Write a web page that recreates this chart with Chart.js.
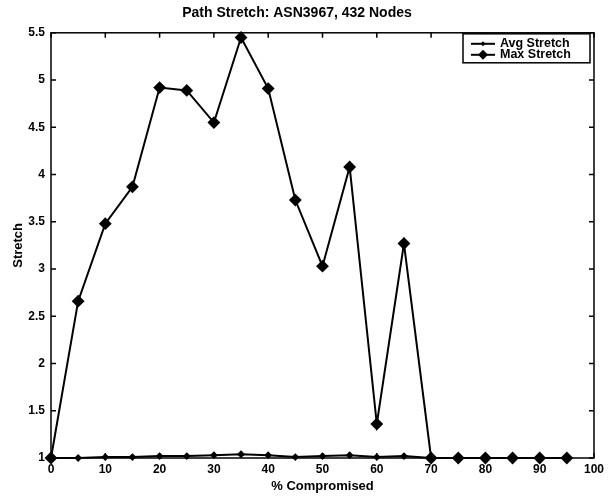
<!DOCTYPE html>
<html>
<head>
<meta charset="utf-8">
<script src="https://cdn.jsdelivr.net/npm/chart.js@4/dist/chart.umd.min.js"></script>
<style>
  html, body { margin: 0; padding: 0; background: #fff; }
  #wrap { width: 609px; height: 496px; position: relative; }
</style>
</head>
<body>
<div id="wrap"><canvas id="stretchChart"></canvas></div>
<script>
const compromised = [0, 5, 10, 15, 20, 25, 30, 35, 40, 45, 50, 55, 60, 65, 70, 75, 80, 85, 90, 95];
const avgStretch = [1.0, 1.0, 1.01, 1.01, 1.02, 1.02, 1.03, 1.04, 1.03, 1.01, 1.02, 1.03, 1.01, 1.02, 1.0, 1.0, 1.0, 1.0, 1.0, 1.0];
const maxStretch = [1.0, 2.66, 3.48, 3.87, 4.92, 4.89, 4.55, 5.45, 4.91, 3.73, 3.03, 4.08, 1.36, 3.27, 1.0, 1.0, 1.0, 1.0, 1.0, 1.0];
const xTicks = [0, 10, 20, 30, 40, 50, 60, 70, 80, 90, 100];
const yTicks = [1, 1.5, 2, 2.5, 3, 3.5, 4, 4.5, 5, 5.5];
const seriesNames = ["Avg Stretch", "Max Stretch"];

const FONT = "'Liberation Sans', Arial, Helvetica, sans-serif";

// box, inward ticks and the in-plot legend, matlab style
const matlabFrame = {
  id: "matlabFrame",
  afterDraw(chart) {
    const { ctx, chartArea: a, scales } = chart;
    ctx.save();
    ctx.strokeStyle = "#000";
    ctx.lineWidth = 1.5;
    ctx.strokeRect(a.left, a.top, a.right - a.left, a.bottom - a.top);

    const tl = 5;
    ctx.beginPath();
    xTicks.forEach((v) => {
      const x = scales.x.getPixelForValue(v);
      ctx.moveTo(x, a.bottom); ctx.lineTo(x, a.bottom - tl);
      ctx.moveTo(x, a.top); ctx.lineTo(x, a.top + tl);
    });
    yTicks.forEach((v) => {
      const y = scales.y.getPixelForValue(v);
      ctx.moveTo(a.left, y); ctx.lineTo(a.left + tl, y);
      ctx.moveTo(a.right, y); ctx.lineTo(a.right - tl, y);
    });
    ctx.stroke();

    // legend
    const bx = 463, by = a.top + 1, bw = 127, bh = 29;
    ctx.fillStyle = "#fff";
    ctx.fillRect(bx, by, bw, bh);
    ctx.lineWidth = 1.5;
    ctx.strokeRect(bx, by, bw, bh);
    ctx.font = "bold 12.5px " + FONT;
    ctx.textBaseline = "middle";
    ctx.textAlign = "left";
    seriesNames.forEach((name, i) => {
      const y = by + 10 + i * 11;
      ctx.strokeStyle = "#000";
      ctx.lineWidth = 2;
      ctx.beginPath();
      ctx.moveTo(bx + 8, y); ctx.lineTo(bx + 32, y);
      ctx.stroke();
      const r = i === 0 ? 2.5 : 5;
      ctx.fillStyle = "#000";
      ctx.beginPath();
      ctx.moveTo(bx + 20, y - r); ctx.lineTo(bx + 20 + r, y);
      ctx.lineTo(bx + 20, y + r); ctx.lineTo(bx + 20 - r, y);
      ctx.closePath();
      ctx.fill();
      ctx.fillText(name, bx + 37, y);
    });
    ctx.restore();
  },
};

const points = (ys) => compromised.map((x, i) => ({ x, y: ys[i] }));

new Chart(document.getElementById("stretchChart"), {
  type: "line",
  data: {
    datasets: [
      {
        label: seriesNames[0],
        data: points(avgStretch),
        borderColor: "#000",
        backgroundColor: "#000",
        borderWidth: 2,
        pointStyle: "rectRot",
        pointRadius: 2.5,
        clip: false,
      },
      {
        label: seriesNames[1],
        data: points(maxStretch),
        borderColor: "#000",
        backgroundColor: "#000",
        borderWidth: 2,
        pointStyle: "rectRot",
        pointRadius: 5,
        clip: false,
      },
    ],
  },
  options: {
    responsive: true,
    maintainAspectRatio: false,
    animation: false,
    layout: { padding: { top: 0, right: 15, bottom: 0, left: 0 } },
    plugins: {
      legend: { display: false },
      tooltip: { enabled: false },
      title: {
        display: true,
        text: "Path Stretch: ASN3967, 432 Nodes",
        color: "#000",
        font: { family: FONT, size: 14, weight: "bold" },
        padding: { top: 5, bottom: 11 },
      },
    },
    scales: {
      x: {
        type: "linear",
        min: 0,
        max: 100,
        afterBuildTicks: (s) => { s.ticks = xTicks.map((v) => ({ value: v })); },
        afterFit: (s) => { s.height = 38; },
        grid: { display: false, drawTicks: false },
        border: { display: false },
        ticks: {
          color: "#000",
          padding: 4,
          maxRotation: 0,
          font: { family: FONT, size: 12, weight: "bold" },
          callback: (v) => String(v),
        },
        title: {
          display: true,
          text: "% Compromised",
          color: "#000",
          font: { family: FONT, size: 13, weight: "bold" },
          padding: { top: 0, bottom: 2 },
        },
      },
      y: {
        type: "linear",
        min: 1,
        max: 5.5,
        afterBuildTicks: (s) => { s.ticks = yTicks.map((v) => ({ value: v })); },
        afterFit: (s) => { s.width = 51; },
        grid: { display: false, drawTicks: false },
        border: { display: false },
        ticks: {
          color: "#000",
          padding: 6,
          font: { family: FONT, size: 12, weight: "bold" },
          callback: (v) => String(v),
        },
        title: {
          display: true,
          text: "Stretch",
          color: "#000",
          font: { family: FONT, size: 13, weight: "bold" },
          padding: { top: 11, bottom: 0 },
        },
      },
    },
  },
  plugins: [matlabFrame],
});
</script>
</body>
</html>
